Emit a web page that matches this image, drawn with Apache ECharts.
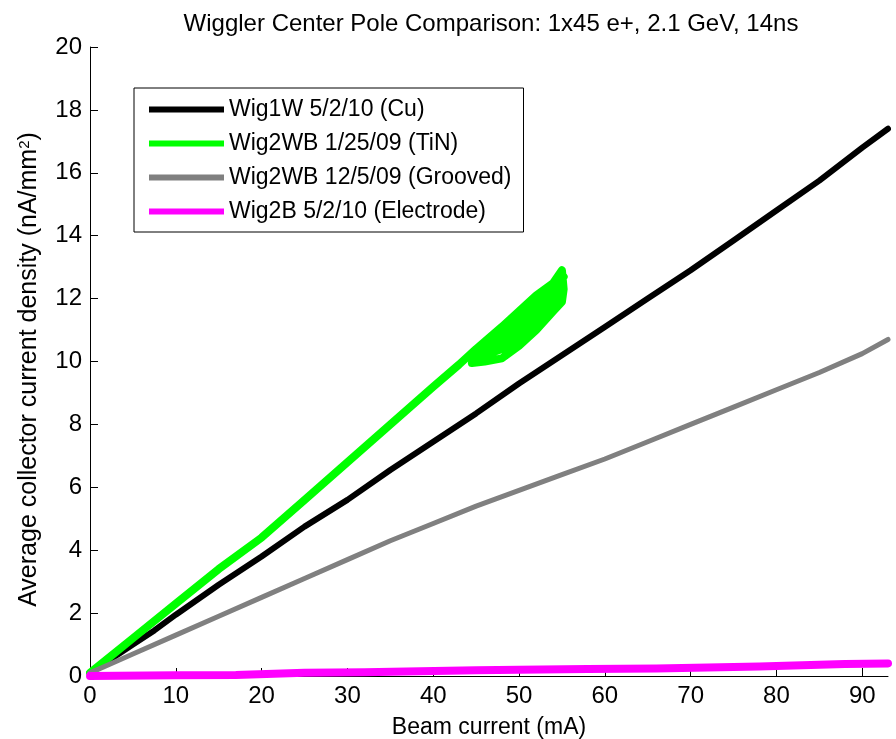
<!DOCTYPE html>
<html>
<head>
<meta charset="utf-8">
<script src="https://cdn.jsdelivr.net/npm/echarts@6/dist/echarts.min.js"></script>
<style>
  html, body { margin: 0; padding: 0; background: #fff; }
  #chart { width: 896px; height: 739px; }
</style>
</head>
<body>
<div id="chart"></div>
<script>
// Beam current (mA) and collector current density (nA/mm^2) per run
const cuX = [0, 2.5, 5, 7.5, 10, 15, 20, 25, 30, 35, 40, 45, 50, 55, 60, 65, 70, 75, 80, 85, 90, 93];
const cuY = [0.1, 0.55, 1.0, 1.45, 1.95, 2.9, 3.8, 4.75, 5.6, 6.55, 7.45, 8.35, 9.3, 10.2, 11.1, 12.0, 12.9, 13.85, 14.8, 15.75, 16.8, 17.4];

// TiN run: ramp up, then repeated sweeps between 44 and 55 mA
const tinX = [0, 2.5, 5, 10, 15, 20, 25, 30, 35, 40, 43, 45, 48, 50, 52, 54, 55,
  55.2, 55, 54, 52, 50, 48, 46, 44.5,
  46, 48, 50, 52, 54, 55,
  54, 52, 50, 48, 46,
  47, 49, 51, 53, 55,
  54, 52, 50, 48, 46.5,
  48, 50, 52, 54, 55.2];
const tinY = [0.1, 0.65, 1.2, 2.3, 3.4, 4.4, 5.6, 6.8, 8.0, 9.2, 9.9, 10.4, 11.1, 11.6, 12.1, 12.5, 12.9,
  12.3, 11.9, 11.6, 11.0, 10.5, 10.1, 10.0, 9.95,
  10.4, 10.7, 11.1, 11.6, 12.2, 12.5,
  11.9, 11.3, 10.8, 10.4, 10.2,
  10.5, 10.9, 11.4, 11.9, 12.2,
  12.0, 11.5, 11.0, 10.6, 10.3,
  10.9, 11.4, 11.9, 12.4, 12.7];

const grooveX = [0, 2.5, 5, 10, 15, 20, 25, 30, 35, 40, 45, 50, 55, 60, 65, 70, 75, 80, 85, 90, 93];
const grooveY = [0.1, 0.4, 0.7, 1.3, 1.9, 2.5, 3.1, 3.7, 4.3, 4.85, 5.4, 5.9, 6.4, 6.9, 7.45, 8.0, 8.55, 9.1, 9.65, 10.25, 10.7];

const electrodeX = [0, 10, 17, 17.2, 25, 32, 32.2, 45, 50, 58, 66, 66.2, 78, 78.2, 88, 93];
const electrodeY = [0.0, 0.02, 0.03, 0.08, 0.1, 0.12, 0.16, 0.18, 0.2, 0.22, 0.24, 0.28, 0.3, 0.36, 0.38, 0.4];

const seriesNames = ['Wig1W 5/2/10 (Cu)', 'Wig2WB 1/25/09 (TiN)', 'Wig2WB 12/5/09 (Grooved)', 'Wig2B 5/2/10 (Electrode)'];
const seriesColors = ['#000000', '#00ff00', '#808080', '#ff00ff'];
const xTicks = [0, 10, 20, 30, 40, 50, 60, 70, 80, 90];
const yTicks = [0, 2, 4, 6, 8, 10, 12, 14, 16, 18, 20];

const zip = (xs, ys) => xs.map((x, i) => [x, ys[i]]);
const runs = [zip(cuX, cuY), zip(tinX, tinY), zip(grooveX, grooveY), zip(electrodeX, electrodeY)];
const widths = [6, 8, 5, 8];

const font = 'Liberation Sans, Arial, sans-serif';
const chart = echarts.init(document.getElementById('chart'));
chart.setOption({
  animation: false,
  backgroundColor: '#ffffff',
  title: {
    text: 'Wiggler Center Pole Comparison: 1x45 e+, 2.1 GeV, 14ns',
    left: 486, top: 7, textAlign: 'center',
    textStyle: { fontFamily: font, fontSize: 24, fontWeight: 'normal', color: '#000' }
  },
  grid: { left: 90, right: 8, top: 47, bottom: 63, outerBoundsMode: 'none', containLabel: false },
  legend: {
    orient: 'vertical', left: 134, top: 88,
    data: seriesNames.map((n, i) => ({ name: n, icon: 'rect', itemStyle: { color: seriesColors[i] } })),
    itemWidth: 75, itemHeight: 6, itemGap: 11,
    padding: [10, 12, 9, 15],
    borderColor: '#000', borderWidth: 1, backgroundColor: '#fff',
    textStyle: { fontFamily: font, fontSize: 23, color: '#000', padding: [0, 0, 0, 0] }
  },
  xAxis: {
    type: 'value', min: 0, max: 93,
    name: 'Beam current (mA)', nameLocation: 'middle', nameGap: 40,
    nameTextStyle: { fontFamily: font, fontSize: 23, color: '#000' },
    axisLine: { lineStyle: { color: '#000', width: 1 } },
    axisTick: { inside: true, length: 8, customValues: xTicks, lineStyle: { color: '#000' } },
    axisLabel: { customValues: xTicks, fontFamily: font, fontSize: 24, color: '#000', margin: 8 },
    splitLine: { show: false }
  },
  yAxis: {
    type: 'value', min: 0, max: 20, interval: 2,
    name: 'Average collector current density (nA/mm{sup|2})', nameLocation: 'middle', nameGap: 48,
    nameTextStyle: {
      fontFamily: font, fontSize: 25, color: '#000', padding: [0, 16, 0, 0],
      rich: { sup: { fontFamily: font, fontSize: 15, color: '#000', verticalAlign: 'top', padding: [0, 0, 10, 0] } }
    },
    axisLine: { show: true, lineStyle: { color: '#000', width: 1 } },
    axisTick: { show: true, inside: true, length: 8, customValues: yTicks, lineStyle: { color: '#000' } },
    axisLabel: { fontFamily: font, fontSize: 24, color: '#000', margin: 8 },
    splitLine: { show: false }
  },
  series: runs.map((d, i) => ({
    name: seriesNames[i], type: 'line', data: d, showSymbol: false, symbol: 'none',
    lineStyle: { color: seriesColors[i], width: widths[i], join: 'round', cap: 'round' },
    itemStyle: { color: seriesColors[i] },
    z: 2 + i
  }))
});
</script>
</body>
</html>
